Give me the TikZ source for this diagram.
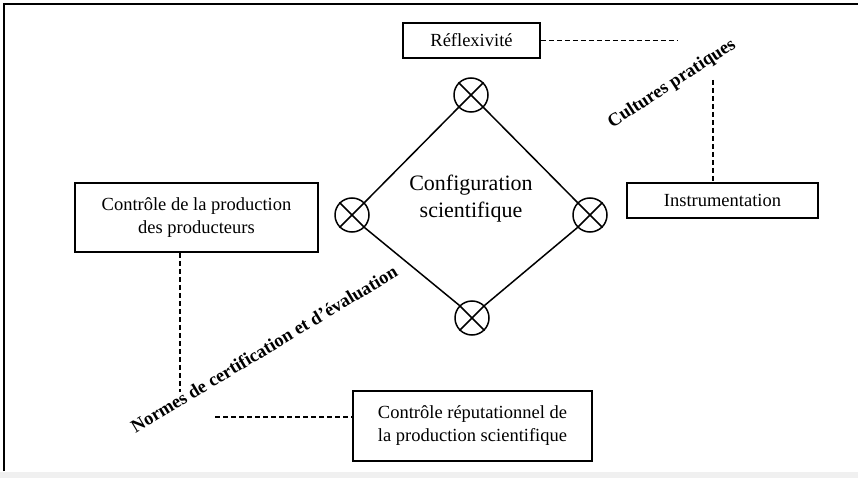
\documentclass[tikz,border=0pt]{standalone}
\usepackage{fontspec}
\setmainfont{Liberation Serif}
\begin{document}
\begin{tikzpicture}[x=1pt,y=-1pt,
  box/.style={draw,line width=1.5pt,rectangle,inner sep=0pt,align=center,
    font=\fontsize{18.5}{23}\selectfont},
  xcirc/.style={draw,circle,line width=1.5pt,minimum size=34pt,inner sep=0pt},
  edge/.style={line width=1.5pt},
  dline/.style={line width=1.2pt,dash pattern=on 5pt off 3pt},
  slant/.style={font=\fontsize{18.5}{20}\selectfont\bfseries}]
\useasboundingbox (0,0) rectangle (858,478);
% frame
\fill[gray!12] (0,472) rectangle (858,478);
\draw[line width=1.8pt] (4,471) -- (4,4) -- (858,4);

% boxes
\node[box,minimum width=137pt,minimum height=35pt] (refl) at (471.5,40.5) {Réflexivité};
\node[box,minimum width=191pt,minimum height=35pt] (instr) at (722.5,200.5) {Instrumentation};
\node[box,minimum width=243pt,minimum height=69pt] (ctrl) at (196.5,217.5) {Contrôle de la production\\des producteurs};
\node[box,minimum width=239pt,minimum height=70pt] (reput) at (472.5,426) {Contrôle réputationnel de\\la production scientifique};

% diamond circles
\node[xcirc] (ct) at (471,95) {};
\node[xcirc] (cl) at (352,215) {};
\node[xcirc] (cr) at (590,215) {};
\node[xcirc] (cb) at (472,318) {};
\foreach \c in {ct,cl,cr,cb}{
  \draw[edge] (\c.north west) -- (\c.south east);
  \draw[edge] (\c.north east) -- (\c.south west);
}
\draw[edge] (ct.south west) -- (cl.north east);
\draw[edge] (ct.south east) -- (cr.north west);
\draw[edge] (cl.south east) -- (cb.north west);
\draw[edge] (cr.south west) -- (cb.north east);

\node[align=center,font=\fontsize{22}{27}\selectfont] (conf) at (471,199) {Configuration\\scientifique};

% slanted labels
\node[slant,rotate=33] (cult) at (672,84) {Cultures pratiques};
\node[slant,rotate=31] (norm) at (264,349) {Normes de certification et d'évaluation};

% dashed connectors
\coordinate (rend) at (678,40.5);
\coordinate (vtop) at (713,80);
\coordinate (lbot) at (180,392);
\coordinate (hstart) at (215,417);
\draw[dline] (refl.east) -- (rend);
\draw[dline] (vtop) -- (vtop |- instr.north);
\draw[dline] (lbot |- ctrl.south) -- (lbot);
\draw[dline] (hstart) -- (hstart -| reput.west);
\end{tikzpicture}
\end{document}
